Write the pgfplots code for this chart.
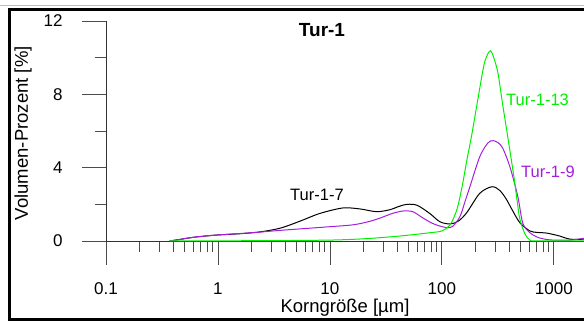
\documentclass[border=0pt]{standalone}
\usepackage{pgfplots}
\pgfplotsset{compat=1.18}
\usepackage{fontspec}
\setmainfont{Liberation Sans}
\definecolor{tgreen}{RGB}{0,240,0}
\definecolor{tpurple}{RGB}{165,30,220}
\begin{document}
\begin{tikzpicture}[x=1pt,y=1pt]
\begin{axis}[
  at={(106pt,80pt)}, anchor=south west,
  scale only axis, width=478pt, height=220pt,
  xmode=log, xmin=0.1, xmax=1860, ymin=0, ymax=12,
  axis lines=left, axis line style={-, line width=0.8pt, black!80},
  tick style={line width=0.8pt, black!70},
  tick align=outside,
  major tick length=24pt, minor tick length=11.5pt,
  xtick={0.1,1,10,100,1000}, xticklabels={0.1,1,10,100,1000},
  ytick={0,4,8,12}, minor ytick={2,6,10},
  /pgf/number format/assume math mode=true,
  ticklabel style={font=\fontsize{17}{20}\selectfont},
  xticklabel style={yshift=-14pt},
  yticklabel style={xshift=-16pt},
  xlabel={Korngröße [\textmu m]}, ylabel={Volumen-Prozent [\%]},
  label style={font=\fontsize{18.5}{22}\selectfont},
  xlabel style={at={(axis description cs:0.5,0)}, anchor=base, yshift=-72pt},
  ylabel style={at={(axis description cs:-0.1736,0.49)}, anchor=center, rotate=0},
  clip=false,
]
\addplot[black, line width=1pt, smooth] coordinates {
(0.37,0) (0.45,0.08) (0.6,0.2) (0.8,0.28) (1.0,0.33) (1.6,0.4) (2.4,0.5) (3.6,0.7) (5.4,1.08) (8.1,1.5) (13,1.8) (18.5,1.75) (26,1.6) (34,1.7) (42,1.9) (49,2.0) (60,1.95) (78,1.5) (96,1.05) (118,0.93) (140,1.08) (167,1.55) (218,2.6) (280,2.96) (330,2.75) (380,2.24) (420,1.75) (497,1.0) (611,0.55) (705,0.47) (867,0.43) (1130,0.27) (1390,0.1) (1860,0.1)
};
\addplot[tpurple, line width=1pt, smooth] coordinates {
(0.37,0) (0.45,0.08) (0.6,0.2) (0.8,0.28) (1.0,0.33) (2.0,0.45) (3.6,0.58) (6,0.68) (10,0.78) (16,0.88) (22,1.05) (28,1.25) (36,1.5) (44,1.63) (50,1.64) (56,1.58) (68,1.25) (80,1.0) (92,0.85) (111,0.73) (125,0.8) (145,1.33) (160,2.1) (178,2.96) (218,4.6) (258,5.35) (291,5.47) (343,5.15) (405,4.05) (477,2.42) (528,0.97) (611,0.45) (705,0.22) (800,0.12) (980,0.05) (1400,0.05) (1860,0.15)
};
\addplot[tgreen, line width=1pt, smooth] coordinates {
(0.37,0) (1,0.01) (3,0.02) (10,0.05) (20,0.12) (42,0.27) (78,0.45) (100,0.55) (118,0.87) (136,1.7) (152,3.0) (167,4.4) (185,5.8) (230,9.15) (245,9.9) (265,10.33) (280,10.27) (315,9.24) (350,7.4) (392,5.5) (440,3.5) (470,2.2) (497,1.2) (551,0.4) (611,0.05) (700,0.01) (1860,0)
};
\end{axis}
\node[font=\fontsize{19}{22}\selectfont\bfseries] at (322,291) {Tur-1};
\node[font=\fontsize{16.5}{20}\selectfont, anchor=west, text=tgreen, inner sep=0pt] at (506,221) {Tur-1-13};
\node[font=\fontsize{16.5}{20}\selectfont, anchor=west, text=tpurple, inner sep=0pt] at (521,149) {Tur-1-9};
\node[font=\fontsize{16.5}{20}\selectfont, anchor=west, text=black, inner sep=0pt] at (290,126) {Tur-1-7};
\draw[black!25, line width=1pt] (0,315.5) -- (600,315.5);
\draw[black, line width=3pt] (9,1) rectangle (620,311.5);
\pgfresetboundingbox
\useasboundingbox (0,0) rectangle (584,321);
\end{tikzpicture}
\end{document}
